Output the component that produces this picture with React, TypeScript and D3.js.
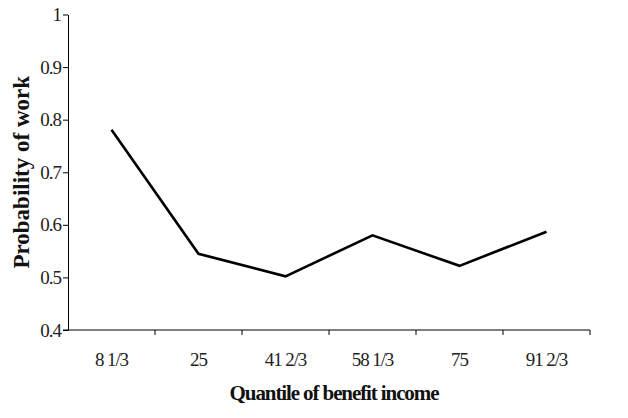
import * as d3 from "d3";
import { useEffect, useRef } from "react";

const quantiles = ["8 1/3", "25", "41 2/3", "58 1/3", "75", "91 2/3"];
const workProb = [0.781, 0.545, 0.502, 0.58, 0.522, 0.587];
const yTicks = [0.4, 0.5, 0.6, 0.7, 0.8, 0.9, 1];

const FONT = "'Liberation Serif', 'DejaVu Serif', serif";

export default function App() {
  const ref = useRef<SVGSVGElement | null>(null);

  useEffect(() => {
    const el = ref.current;
    if (!el) return;
    const svg = d3.select(el);
    svg.selectAll("*").remove();

    const W = 628;
    const H = 418;
    const margin = { top: 14.5, right: 38, bottom: 88, left: 68 };
    const iw = W - margin.left - margin.right;
    const ih = H - margin.top - margin.bottom;

    svg.attr("width", W).attr("height", H).attr("viewBox", `0 0 ${W} ${H}`);

    const x = d3.scaleBand<string>().domain(quantiles).range([0, iw]);
    const y = d3.scaleLinear().domain([0.4, 1]).range([ih, 0]);

    const g = svg
      .append("g")
      .attr("transform", `translate(${margin.left},${margin.top})`);

    // y axis
    g.append("g")
      .call(
        d3
          .axisLeft(y)
          .tickValues(yTicks)
          .tickSize(5)
          .tickSizeOuter(0)
          .tickPadding(2)
          .tickFormat((d) => `${d}`),
      )
      .call((ga) => ga.select(".domain").attr("stroke", "#000"))
      .call((ga) => ga.selectAll(".tick line").attr("stroke", "#000"))
      .call((ga) =>
        ga
          .selectAll(".tick text")
          .style("font-family", FONT)
          .style("font-size", "19px")
          .attr("fill", "#222")
          .attr("letter-spacing", -1),
      );

    // x axis, ticks at category boundaries
    const xa = g.append("g").attr("transform", `translate(0,${ih})`);
    xa.append("line")
      .attr("x1", -5)
      .attr("x2", iw)
      .attr("stroke", "#000")
      .attr("stroke-width", 1.2);
    xa.selectAll("line.tk")
      .data(quantiles.slice(1).concat(["end"]))
      .join("line")
      .attr("class", "tk")
      .attr("x1", (_d, i) => x.step() * (i + 1))
      .attr("x2", (_d, i) => x.step() * (i + 1))
      .attr("y1", 0)
      .attr("y2", 5)
      .attr("stroke", "#000");
    xa.selectAll("text")
      .data(quantiles)
      .join("text")
      .attr("x", (d) => (x(d) ?? 0) + x.bandwidth() / 2)
      .attr("y", 36)
      .attr("text-anchor", "middle")
      .style("font-family", FONT)
      .style("font-size", "19px")
      .attr("fill", "#222")
      .attr("letter-spacing", -1.1)
      .text((d) => d);

    const line = d3
      .line<number>()
      .x((_d, i) => (x(quantiles[i]) ?? 0) + x.bandwidth() / 2)
      .y((d) => y(d));

    g.append("path")
      .datum(workProb)
      .attr("fill", "none")
      .attr("stroke", "#000")
      .attr("stroke-width", 2.6)
      .attr("stroke-linejoin", "miter")
      .attr("d", line);

    svg
      .append("text")
      .attr("transform", `translate(29,${margin.top + ih / 2}) rotate(-90)`)
      .attr("text-anchor", "middle")
      .attr("font-family", FONT)
      .attr("font-weight", "bold")
      .attr("font-size", 23)
      .attr("fill", "#111")
      .text("Probability of work");

    svg
      .append("text")
      .attr("x", 334)
      .attr("y", 400)
      .attr("text-anchor", "middle")
      .attr("font-family", FONT)
      .attr("font-weight", "bold")
      .attr("font-size", 21)
      .attr("letter-spacing", -1.1)
      .attr("fill", "#111")
      .text("Quantile of benefit income");
  }, []);

  return (
    <svg
      ref={ref}
      style={{ position: "absolute", left: 0, top: 0, background: "#fff" }}
    />
  );
}
